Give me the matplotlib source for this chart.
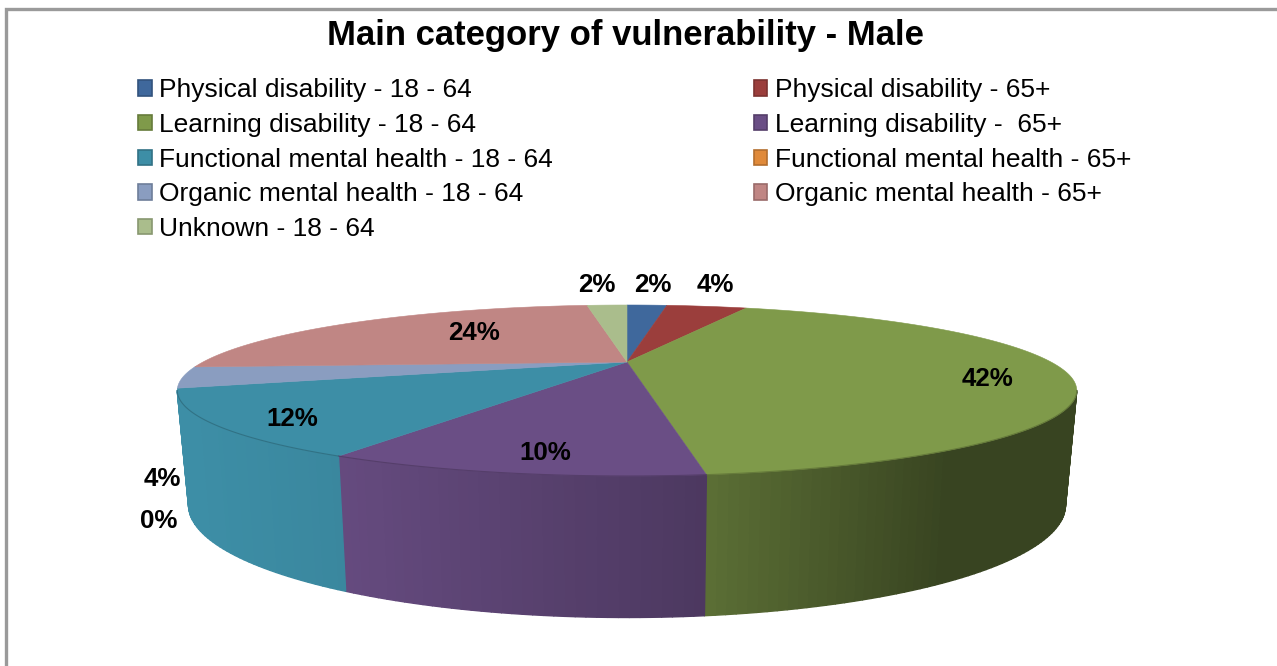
import numpy as np
import matplotlib
matplotlib.use("Agg")
import matplotlib.pyplot as plt
from matplotlib.collections import PolyCollection
from matplotlib.patches import Patch, Polygon

TITLE = "Main category of vulnerability - Male"
categories = [
    "Physical disability - 18 - 64", "Physical disability - 65+",
    "Learning disability - 18 - 64", "Learning disability -  65+",
    "Functional mental health - 18 - 64", "Functional mental health - 65+",
    "Organic mental health - 18 - 64", "Organic mental health - 65+",
    "Unknown - 18 - 64",
]
values = [2, 4, 42, 10, 12, 0, 4, 24, 2]
colors = ["#3f689c", "#9b3e3c", "#7f9a4a", "#6a4e85", "#3d8ea6",
          "#e08a3a", "#8a9dc0", "#c08684", "#aabd8c"]
label_xy = [(653, 285.5), (715, 285.5), (987, 379.5), (545, 453.5), (292, 418.5),
            (159, 521.5), (162, 478.5), (474, 333.5), (597, 284.5)]

W, H = 1277, 666
CX = 627
TOP = dict(a=424.0, b=76.0, cy=362.0)
BOT = dict(a=413.4, b=100.0, cy=467.5)
K = 1 / 3


def project(theta, plane):
    t = np.radians(theta)
    X, Y = np.sin(t), np.cos(t)
    w = 1 + K * Y
    return CX + plane["a"] * X / w, plane["cy"] - plane["b"] * Y / w


def shade(x):
    return np.interp(x, [190, 345, 706, 950, 1066], [1.0, 0.95, 0.72, 0.44, 0.44])


fig = plt.figure(figsize=(W / 100, H / 100), dpi=100, facecolor="white")
ax = fig.add_axes([0, 0, 1, 1])
ax.set_xlim(0, W)
ax.set_ylim(H, 0)
ax.axis("off")
plt.rcParams["font.family"] = ["Liberation Sans", "DejaVu Sans"]

# Chart frame (open to the right and bottom, as cropped in the source)
ax.plot([6, 6, W], [H, 9, 9], color="#9a9a9a", lw=2.4, solid_joinstyle="miter", zorder=1)

frac = np.cumsum([0] + values) / sum(values) * 360.0
vis_lo = np.degrees(np.arccos(-K))
vis_hi = 360 - vis_lo

# Outer wall
for i, c in enumerate(colors):
    lo, hi = max(frac[i], vis_lo), min(frac[i + 1], vis_hi)
    if hi <= lo:
        continue
    edges = np.linspace(lo, hi, max(2, int(hi - lo) + 1))
    xt, yt = project(edges, TOP)
    xb, yb = project(edges, BOT)
    polys, cols = [], []
    base = np.array(matplotlib.colors.to_rgb(c))
    for j in range(len(edges) - 1):
        polys.append([(xt[j], yt[j]), (xt[j + 1], yt[j + 1]),
                      (xb[j + 1], yb[j + 1]), (xb[j], yb[j])])
        cols.append(tuple(base * shade((xt[j] + xt[j + 1]) / 2)))
    ax.add_collection(PolyCollection(polys, facecolors=cols, edgecolors=cols,
                                     linewidths=1.0, zorder=2))

# Top face
for i, c in enumerate(colors):
    if values[i] == 0:
        continue
    arc = np.linspace(frac[i], frac[i + 1], max(3, int(frac[i + 1] - frac[i]) * 2))
    x, y = project(arc, TOP)
    pts = np.column_stack([np.r_[CX, x], np.r_[TOP["cy"], y]])
    ax.add_patch(Polygon(pts, closed=True, facecolor=c, edgecolor=c, lw=0.4, zorder=3))
    lo, hi = max(frac[i], vis_lo), min(frac[i + 1], vis_hi)
    if hi > lo:
        e = np.linspace(lo, hi, 80)
        xe, ye = project(e, TOP)
        ax.plot(xe, ye, color=tuple(np.array(matplotlib.colors.to_rgb(c)) * 0.8),
                lw=0.8, zorder=4)

# Data labels
for v, (lx, ly) in zip(values, label_xy):
    ax.text(lx, ly, f"{v}%", ha="center", va="center", fontsize=18.6,
            fontweight="bold", color="black", zorder=6)

ax.text(625, 36, TITLE, ha="center", va="center", fontsize=24.9,
        fontweight="bold", color="black", zorder=6)

# Legend: matplotlib fills columns first; the source reads across rows
order = [0, 2, 4, 6, 8, 1, 3, 5, 7]
handles = [Patch(facecolor=colors[i], edgecolor=tuple(np.array(matplotlib.colors.to_rgb(colors[i])) * 0.8),
                 lw=1.2, label=categories[i]) for i in order]
leg = ax.legend(handles=handles, ncol=2, loc="upper left",
                bbox_to_anchor=(138 / W, 1 - 78.5 / H), frameon=False,
                fontsize=19, handlelength=0.52, handleheight=0.52,
                handletextpad=0.27, columnspacing=7.62, labelspacing=0.40,
                borderpad=0, borderaxespad=0)
leg.set_zorder(6)

fig.savefig("out.png", dpi=100, facecolor="white")
